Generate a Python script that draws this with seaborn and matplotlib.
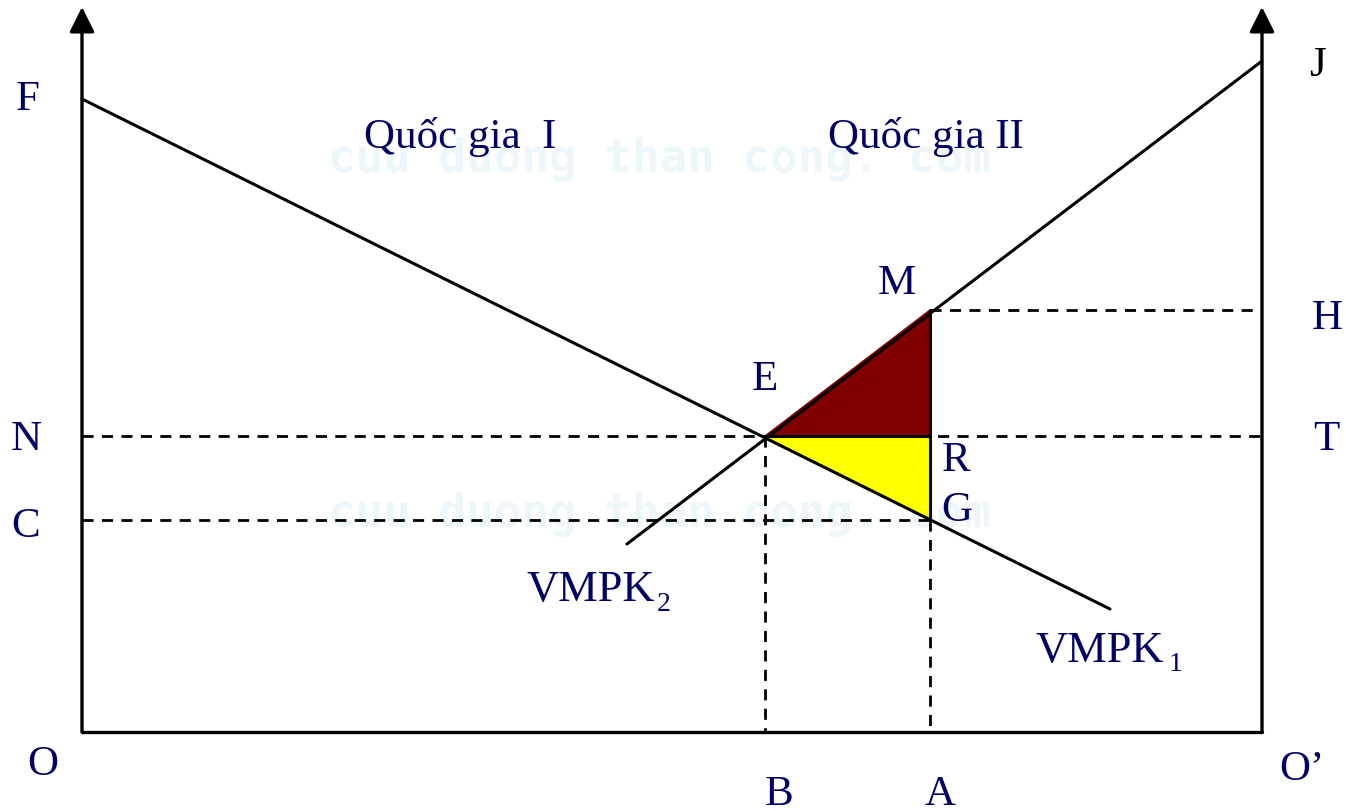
import matplotlib
matplotlib.use("Agg")
import matplotlib.pyplot as plt
import pandas as pd
import seaborn as sns

# ---- diagram data (pixel-like units, y grows downward) ----
axis_x = [82, 1262]          # left (O) and right (O') vertical axes
axis_bottom = 733
axis_top = 8

vmpk1_x = [82, 1110]         # F -> VMPK1 (downward sloping)
vmpk1_y = [100, 610]
vmpk2_x = [627, 1262]        # VMPK2 -> J (upward sloping)
vmpk2_y = [545, 62]

E = (765, 437)
M = (930, 311)
R = (930, 437)
G = (930, 521)

labels = ["F", "J", "M", "H", "E", "N", "T", "R", "C", "G", "O", "O\u2019", "B", "A"]
label_x = [28, 1318, 897, 1327, 765, 26, 1326, 956, 26, 957, 43, 1302, 779, 940]
label_y = [100, 66, 284, 319, 380, 440, 440, 461, 527, 511, 765, 770, 795, 795]

navy = "#000066"

sns.set_theme(style="white")
plt.rcParams["font.family"] = ["Liberation Serif", "DejaVu Serif"]

fig = plt.figure(figsize=(13.46, 8.12), dpi=100)
ax = fig.add_axes([0, 0, 1, 1])
ax.set_xlim(0, 1346)
ax.set_ylim(812, 0)
ax.axis("off")

# watermark
for wy in [160, 515]:
    ax.text(660, wy, "cuu duong than cong. com", family="DejaVu Sans Mono",
            fontweight="bold", fontsize=33, color="#edf7fb", ha="center",
            va="center", zorder=0)

# filled triangles
ax.fill([E[0], M[0], R[0]], [E[1], M[1], R[1]], color="#800000", zorder=1)
ax.fill([E[0], R[0], G[0]], [E[1], R[1], G[1]], color="#ffff00", zorder=1)

# dashed guide lines
dash = dict(color="black", lw=2.0, linestyle=(0, (4, 3)), zorder=2)
ax.plot([axis_x[0], axis_x[1]], [E[1], E[1]], **dash)   # N - T
ax.plot([axis_x[0], G[0]], [G[1], G[1]], **dash)        # C - G
ax.plot([M[0], axis_x[1]], [M[1], M[1]], **dash)        # M - H
ax.plot([E[0], E[0]], [E[1], axis_bottom], **dash)      # E - B
ax.plot([G[0], G[0]], [G[1], axis_bottom], **dash)      # G - A

# solid segments M-G and E-R
ax.plot([M[0], G[0]], [M[1], G[1]], color="black", lw=2.2, zorder=3)
ax.plot([E[0], R[0]], [E[1], R[1]], color="black", lw=2.2, zorder=3)

# VMPK curves
curves = pd.DataFrame({
    "x": vmpk1_x + vmpk2_x,
    "y": vmpk1_y + vmpk2_y,
    "curve": ["VMPK1"] * 2 + ["VMPK2"] * 2,
})
sns.lineplot(data=curves, x="x", y="y", hue="curve", palette=["black", "black"],
             lw=2.2, legend=False, ax=ax, zorder=3, sort=False)

# axes: left, right and bottom
ax.plot([axis_x[0], axis_x[1]], [axis_bottom, axis_bottom], color="black", lw=2.4, zorder=4)
for xv in axis_x:
    ax.annotate("", xy=(xv, axis_top), xytext=(xv, axis_bottom),
                arrowprops=dict(arrowstyle="-|>", color="black", lw=2.4,
                                mutation_scale=38, shrinkA=0, shrinkB=0), zorder=4)

# point labels
for t, lx, ly in zip(labels, label_x, label_y):
    ax.text(lx, ly, t, fontsize=31, color="black" if t == "J" else navy,
            ha="center", va="center")

ax.text(460, 137, "Quốc gia  I", fontsize=31, color=navy, ha="center", va="center")
ax.text(926, 137, "Quốc gia II", fontsize=31, color=navy, ha="center", va="center")
ax.text(591, 590, "VMPK", fontsize=32, color=navy, ha="center", va="center")
ax.text(664, 605, "2", fontsize=20, color=navy, ha="center", va="center")
ax.text(1100, 651, "VMPK", fontsize=32, color=navy, ha="center", va="center")
ax.text(1176, 665, "1", fontsize=20, color=navy, ha="center", va="center")

fig.savefig("out.png", dpi=100)
